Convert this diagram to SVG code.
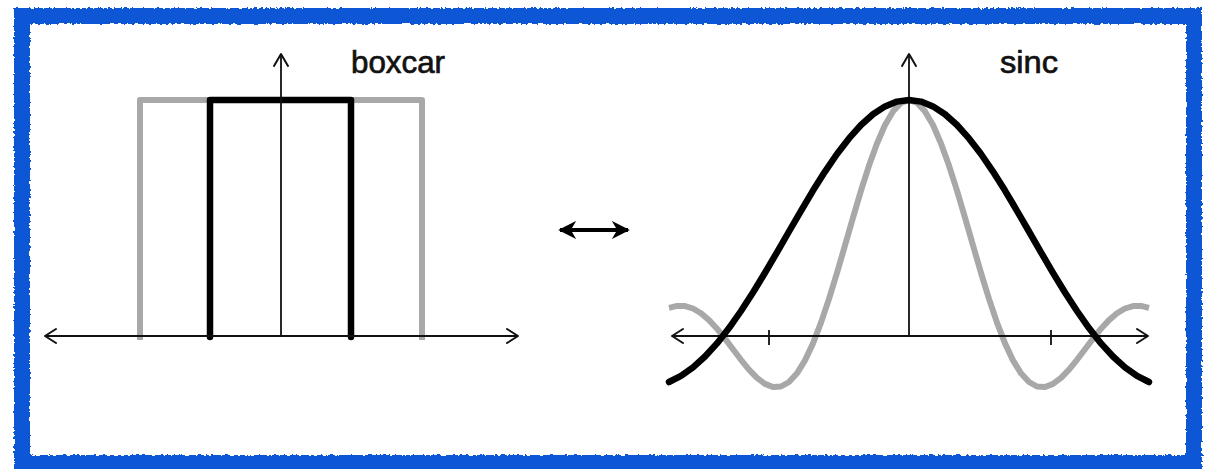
<svg xmlns="http://www.w3.org/2000/svg" width="1208" height="469" viewBox="0 0 1208 469">
<style>
.axis{stroke:#111;stroke-width:1.8;fill:none}
.head{stroke:#111;stroke-width:2;fill:none;stroke-linecap:round;stroke-linejoin:round}
.gray{stroke:#a8a8a8;stroke-width:6;fill:none;stroke-linejoin:round;stroke-linecap:butt}
.blk{stroke:#000;stroke-width:6.5;fill:none;stroke-linejoin:round;stroke-linecap:round}
.lbl{font-family:"Liberation Sans",Arial,sans-serif;font-size:32px;fill:#111;stroke:#111;stroke-width:0.7}
</style>
<defs>
<marker id="dbl" viewBox="0 0 10 10" refX="9" refY="5" markerWidth="4.5" markerHeight="4.5" orient="auto-start-reverse" markerUnits="strokeWidth">
<path d="M0,0 L10,5 L0,10 L3,5 Z" fill="#000"/>
</marker>
<filter id="rough" x="-5%" y="-5%" width="110%" height="110%">
<feTurbulence type="fractalNoise" baseFrequency="0.35" numOctaves="2" seed="3" result="n"/>
<feDisplacementMap in="SourceGraphic" in2="n" scale="4" xChannelSelector="R" yChannelSelector="G"/>
</filter>
</defs>
<rect width="1208" height="469" fill="#fff"/>
<g id="frame">
<rect x="22" y="16" width="1172" height="447" fill="none" stroke="#0a57d6" stroke-width="16" filter="url(#rough)"/>
</g>
<g id="boxcar">
<path class="gray" d="M140,340 V100 H422 V340"/>
<path class="blk" d="M210,337 V100 H351 V337" stroke-linecap="butt"/>
<line class="axis" x1="45" y1="336" x2="518" y2="336"/>
<polyline class="head" points="56,329 45,336 56,343"/>
<polyline class="head" points="507,329 518,336 507,343"/>
<line class="axis" x1="281" y1="336" x2="281" y2="54"/>
<polyline class="head" points="274,66 281,54 288,66"/>
<text class="lbl" x="351" y="73" textLength="94" lengthAdjust="spacingAndGlyphs">boxcar</text>
</g>
<g id="sinc">
<polyline class="gray" points="669,307.8 677,305.9 685,306.1 693,308.5 701,313.3 709,320.1 717,328.7 725,338.6 733,349.2 741,359.8 749,369.6 757,377.9 765,383.9 773,387 781,386.5 789,382 797,373.3 805,360.4 813,343.4 821,322.6 829,298.9 837,272.8 845,245.4 853,217.6 861,190.6 869,165.6 877,143.5 885,125 893,111.4 901,102.8 909,100 917,102.8 925,111.4 933,125 941,143.5 949,165.6 957,190.6 965,217.6 973,245.4 981,272.8 989,298.9 997,322.6 1005,343.4 1013,360.4 1021,373.3 1029,382 1037,386.5 1045,387 1053,383.9 1061,377.9 1069,369.6 1077,359.8 1085,349.2 1093,338.6 1101,328.7 1109,320.1 1117,313.3 1125,308.5 1133,306.1 1141,305.9 1149,307.8"/>
<line class="axis" x1="672" y1="336" x2="1148" y2="336"/>
<polyline class="head" points="683,329 672,336 683,343"/>
<polyline class="head" points="1137,329 1148,336 1137,343"/>
<line class="axis" x1="909" y1="336" x2="909" y2="54"/>
<polyline class="head" points="902,66 909,54 916,66"/>
<line class="axis" x1="769" y1="330" x2="769" y2="345"/>
<line class="axis" x1="1051" y1="330" x2="1051" y2="345"/>
<polyline class="blk" points="669,382 681,375.9 693,367.3 705,356.5 717,343.4 729,328.1 741,311 753,292.5 765,272.8 777,252.3 789,231.5 801,210.8 813,190.6 825,171.6 837,154 849,138.4 861,125 873,114.3 885,106.4 897,101.6 909,100 921,101.6 933,106.4 945,114.3 957,125 969,138.4 981,154 993,171.6 1005,190.6 1017,210.8 1029,231.5 1041,252.3 1053,272.8 1065,292.5 1077,311 1089,328.1 1101,343.4 1113,356.5 1125,367.3 1137,375.9 1149,382"/>
<text class="lbl" x="1000" y="73" textLength="58" lengthAdjust="spacingAndGlyphs">sinc</text>
</g>
<g id="connectors">
<line x1="560" y1="230" x2="628" y2="230" stroke="#000" stroke-width="4" marker-start="url(#dbl)" marker-end="url(#dbl)"/>
</g>
</svg>
